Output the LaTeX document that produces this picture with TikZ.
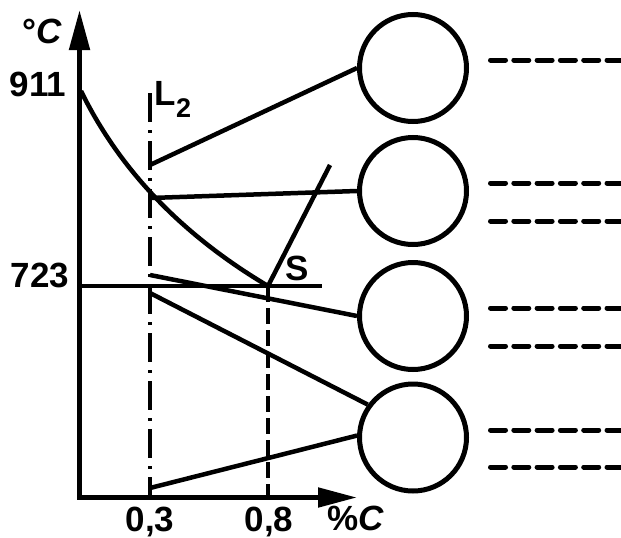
\documentclass[tikz,border=0pt]{standalone}
\usepackage{fontspec}
\setmainfont{Liberation Sans}
\usetikzlibrary{arrows.meta}
\begin{document}
\begin{tikzpicture}[x=1pt,y=-1pt,
  lbl/.style={font=\fontsize{35}{35}\selectfont\bfseries, inner sep=0pt, text depth=0pt},
  ln/.style={line width=4.5pt},
  circ/.style={circle, draw, line width=5pt, minimum size=107pt, inner sep=0pt},
  axis/.style={line width=5pt, line join=miter},
  chainline/.style={line width=4.5pt, dash pattern=on 29pt off 8pt on 3pt off 8pt},
  dashline/.style={line width=4.5pt, dash pattern=on 16pt off 6pt},
  legend/.style={line width=5pt, line cap=round, dash pattern=on 15pt off 8.3pt},
]
\useasboundingbox (0,0) rectangle (621,538);

% axes
\coordinate (O) at (79.5,497.5);
\coordinate (ytip) at (79.5,10);
\coordinate (xtip) at (357,497.5);
\draw[axis, {Triangle[length=40pt,width=20pt]}-{Triangle[length=39pt,width=19pt]}] (ytip) -- (O) -- (xtip);

% key points
\coordinate (A) at (81,91);
\coordinate (S) at (268,286);
\coordinate (Stop) at (330,165);
\coordinate (h0) at (79.5,286);
\coordinate (h1) at (322,286);
\coordinate (Ltop) at (150,93);
\coordinate (Lbot) at (150,497.5);
\coordinate (Sbot) at (268,497.5);

% diagram lines
\draw[ln] (A) .. controls (120,170.7) and (182.7,235.3) .. (S);
\draw[ln] (S) -- (Stop);
\draw[ln] (h0) -- (h1);
\draw[chainline] (Ltop) -- (Lbot);
\draw[dashline] (S) -- (Sbot);

% circles
\node[circ] (k1) at (413,68) {};
\node[circ] (k2) at (413,191) {};
\node[circ] (k3) at (413,316) {};
\node[circ] (k4) at (413,437.5) {};

% connector start points on L2
\coordinate (p1) at (150,165);
\coordinate (p2) at (150,198);
\coordinate (p3) at (150,275);
\coordinate (p4) at (150,293);
\coordinate (p5) at (150,488);

\draw[ln] (p1) -- (k1.west);
\draw[ln] (p2) -- (k2.west);
\draw[ln] (p3) -- (k3.west);
\draw[ln] (p4) -- (k4.144);
\draw[ln] (p5) -- (k4.178);

% legend dashes
\foreach \yy [count=\i] in {60,183,221,308,346,430,467}{
  \coordinate (d\i a) at (490.5,\yy);
  \coordinate (d\i b) at (630,\yy);
  \draw[legend] (d\i a) -- (d\i b);
}

% labels
\node[lbl] (tC) at (42,31) {°\textit{C}};
\node[lbl] (t911) at (38,84) {911};
\node[lbl] (t723) at (40,275) {723};
\node[lbl] (tL) at (173,93) {L\raisebox{-12pt}{\fontsize{27}{27}\selectfont\bfseries 2}};
\node[lbl] (tS) at (297,268) {S};
\node[lbl] (t03) at (150,519) {0,3};
\node[lbl] (t08) at (269,519) {0,8};
\node[lbl] (tpc) at (356,518) {\%\textit{C}};
\end{tikzpicture}
\end{document}
